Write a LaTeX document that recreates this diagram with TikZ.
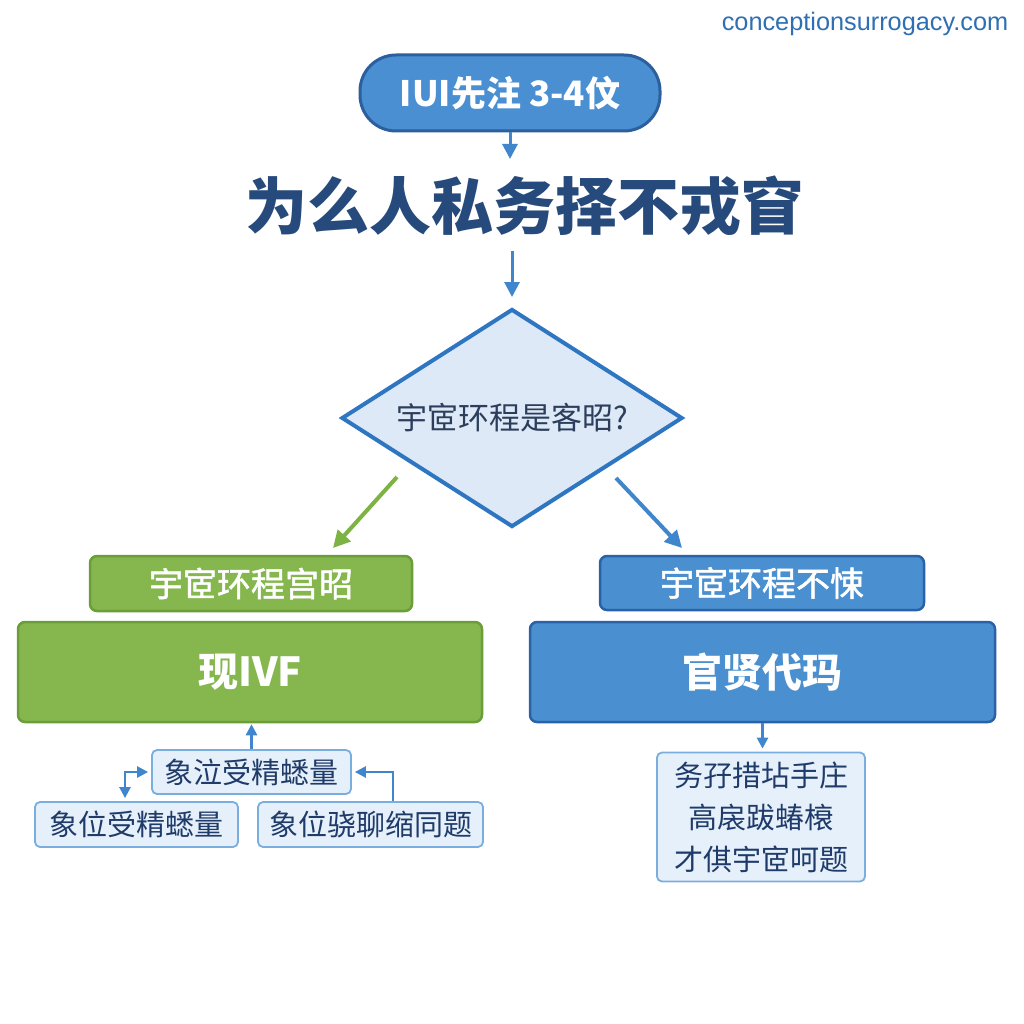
\documentclass[tikz,border=0pt]{standalone}
\usepackage{fontspec}
\setmainfont{Noto Sans CJK SC}
\newfontfamily\semibold[FakeBold=1.5]{Noto Sans CJK SC}
\newfontfamily\wmfont{Liberation Sans}
\usetikzlibrary{arrows.meta,shapes.geometric}
\definecolor{pillfill}{HTML}{4A8FD2}
\definecolor{pillline}{HTML}{2B5F9E}
\definecolor{titlecol}{HTML}{264A7C}
\definecolor{arrblue}{HTML}{3F86CC}
\definecolor{diafill}{HTML}{DDE9F6}
\definecolor{dialine}{HTML}{2F76C2}
\definecolor{diatext}{HTML}{2C3E5C}
\definecolor{gfill}{HTML}{86B74E}
\definecolor{gline}{HTML}{6A9E38}
\definecolor{garr}{HTML}{7DB343}
\definecolor{bfill}{HTML}{4A8FCF}
\definecolor{bline}{HTML}{2A62A8}
\definecolor{subfill}{HTML}{E6F0FA}
\definecolor{subline}{HTML}{7AAEDF}
\definecolor{subtext}{HTML}{1F3B6A}
\definecolor{wmcol}{HTML}{2F6FB3}
\tikzset{
  pill/.style={draw=pillline, line width=3pt, fill=pillfill, rounded corners=36pt,
    minimum width=300pt, minimum height=76pt, text=white, font=\fontsize{35}{38}\selectfont\bfseries},
  gbox/.style={draw=gline, line width=2.5pt, fill=gfill, rounded corners=7pt, text=white},
  bbox/.style={draw=bline, line width=2.5pt, fill=bfill, rounded corners=7pt, text=white},
  subbox/.style={draw=subline, line width=1.8pt, fill=subfill, rounded corners=5pt, text=subtext,
    font=\fontsize{29}{32}\selectfont, inner sep=0pt},
  arrv/.style={draw=arrblue, line width=3pt, -{Triangle[length=15pt,width=15pt]}},
  arrd/.style={line width=4pt, -{Triangle[length=17pt,width=17pt]}},
  sarr/.style={draw=arrblue, line width=2.5pt, -{Triangle[length=11pt,width=11pt]}},
  sarrb/.style={draw=arrblue, line width=2.5pt, {Triangle[length=11pt,width=11pt]}-{Triangle[length=11pt,width=11pt]}},
}
\begin{document}
\begin{tikzpicture}[x=1pt,y=-1pt]
\useasboundingbox[fill=white] (0,0) rectangle (1024,1024);
% watermark
\node[text=wmcol, font=\wmfont\fontsize{25.3}{27}\selectfont, inner sep=0pt] (wm) at (865,24) {conceptionsurrogacy.com};
% top pill
\node[pill] (iui) at (510,93) {IUI先注 3-4伩};
% title
\node[text=titlecol, font=\fontsize{62}{66}\selectfont\bfseries, inner sep=9pt] (title) at (524,206) {为么人私务择不戎窅};
% diamond
\node[diamond, aspect=1.564, draw=dialine, line width=4pt, fill=diafill, inner sep=0pt,
  minimum width=341pt, minimum height=218pt, text=diatext, font=\fontsize{31}{33}\selectfont] (dia) at (512,418) {宇宧环程是客昭?};
% headers and main boxes
\node[gbox, minimum width=322pt, minimum height=55pt, font=\semibold\fontsize{34}{36}\selectfont] (ghead) at (251,583.5) {宇宧环程宫昭};
\node[gbox, minimum width=464pt, minimum height=100pt, font=\fontsize{40}{44}\selectfont\bfseries] (gmain) at (250,672) {现IVF};
\node[bbox, minimum width=324pt, minimum height=54pt, font=\semibold\fontsize{34}{36}\selectfont] (bhead) at (762,583) {宇宧环程不悚};
\node[bbox, minimum width=465pt, minimum height=100pt, font=\fontsize{40}{44}\selectfont\bfseries] (bmain) at (762.5,672) {官贤代玛};
% sub boxes
\node[subbox, minimum width=199pt, minimum height=44pt] (mid) at (251.5,772) {象泣受精蟋量};
\node[subbox, minimum width=203pt, minimum height=45pt] (lbox) at (136.5,824.5) {象位受精蟋量};
\node[subbox, minimum width=225pt, minimum height=45pt] (rbox) at (370.5,824.5) {象位骁聊缩同题};
\node[subbox, minimum width=208pt, minimum height=129pt, align=center,
  font=\fontsize{29}{42}\selectfont] (rdet) at (761,817) {务孖措坫手庄\\高扆跋蝽榱\\才倛宇宧呵题};
% arrows
\draw[arrv, shorten >=8pt] (iui.south) -- (iui.south |- title.north);
\draw[arrv, shorten <=6pt, shorten >=10pt] (dia.north |- title.south) -- (dia.north);
\coordinate (gs) at (397,477);
\coordinate (ge) at (333,548);
\coordinate (bs) at (616,478);
\coordinate (be) at (682,548);
\draw[arrd, draw=garr, fill=garr] (gs) -- (ge);
\draw[arrd, draw=arrblue, fill=arrblue] (bs) -- (be);
\draw[sarr, shorten >=1pt] (mid.north) -- (mid.north |- gmain.south);
\draw[sarrb, shorten >=3pt, shorten <=3pt] ([xshift=-11.5pt]lbox.north) |- (mid.west);
\draw[sarr, shorten >=3pt] ([xshift=22.5pt]rbox.north) |- (mid.east);
\draw[sarr, shorten >=3pt] (bmain.south) -- (bmain.south |- rdet.north);
\end{tikzpicture}
\end{document}
